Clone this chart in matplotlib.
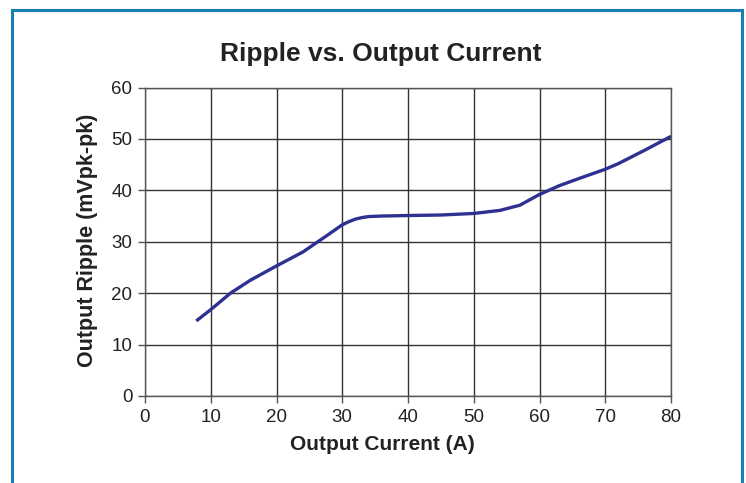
import matplotlib
matplotlib.use("Agg")
import matplotlib.pyplot as plt
from matplotlib.patches import Rectangle

current = [7.8, 10, 13, 16, 20, 24, 28, 30, 31, 32, 33, 34, 36, 40, 45, 50, 54, 57, 60, 63, 66, 70, 72, 76, 80]
ripple = [14.6, 16.8, 20.0, 22.5, 25.3, 28.0, 31.5, 33.3, 33.9, 34.4, 34.7, 34.9, 35.0, 35.1, 35.2, 35.5, 36.1, 37.1, 39.2, 40.9, 42.3, 44.1, 45.2, 47.8, 50.5]
xticks = [0, 10, 20, 30, 40, 50, 60, 70, 80]
yticks = [0, 10, 20, 30, 40, 50, 60]

plt.rcParams['font.family'] = ['Liberation Sans', 'DejaVu Sans']

fig = plt.figure(figsize=(7.46, 4.83), dpi=100)
W, H = 746, 483
fig.patches.append(Rectangle((12 / W, -0.05), (742 - 12) / W, 1.05 - 10 / H,
                             transform=fig.transFigure, fill=False,
                             edgecolor='#1a7fb5', linewidth=2.2))

ax = fig.add_axes([145 / W, 1 - 396 / H, (671 - 145) / W, (396 - 87.5) / H])
ax.plot(current, ripple, color='#2e3192', linewidth=2.4, solid_joinstyle='round',
        solid_capstyle='butt')
ax.set_xlim(0, 80)
ax.set_ylim(0, 60)
ax.set_xticks(xticks)
ax.set_yticks(yticks)
ax.grid(True, color='#333333', linewidth=1.0)
for s in ax.spines.values():
    s.set_color('#555555')
    s.set_linewidth(1.0)
ax.tick_params(direction='out', length=5, width=1, color='#555555',
               labelsize=13.5, labelcolor='#222222', pad=4)

fig.text(381 / W, 1 - 54 / H, 'Ripple vs. Output Current', ha='center', va='center',
         fontsize=19, fontweight='bold', color='#222222')
fig.text(382 / W, 1 - 445 / H, 'Output Current (A)', ha='center', va='center',
         fontsize=15, fontweight='bold', color='#222222')
fig.text(87 / W, 1 - 240 / H, 'Output Ripple (mVpk-pk)', ha='center', va='center',
         rotation=90, fontsize=15.5, fontweight='bold', color='#222222')

fig.savefig('out.png', dpi=100)
